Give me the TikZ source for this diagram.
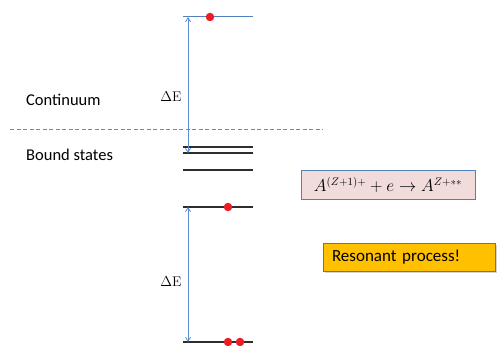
\documentclass[tikz,border=0pt]{standalone}
\usepackage{amsmath}
\usepackage{fontspec}
\newfontfamily\calib{Carlito}
\usetikzlibrary{arrows.meta,shadows}
\begin{document}
\begin{tikzpicture}[x=1pt,y=-1pt,>={Straight Barb[length=4pt,width=5pt]},
  level/.style={line width=1.3pt,draw=levelgray},
  dot/.style={circle,fill=dotred,inner sep=0pt,minimum size=8.5pt},
  gap/.style={<->,line width=.8pt,draw=gapblue},
  label/.style={font=\calib\fontsize{16.5}{19}\selectfont,anchor=west,inner sep=0pt},
  de/.style={font=\fontsize{14}{16}\selectfont,inner sep=0pt}]
\definecolor{levelgray}{RGB}{45,45,45}
\definecolor{gapblue}{RGB}{91,140,205}
\definecolor{dotred}{RGB}{235,28,36}
\definecolor{boxpink}{RGB}{242,220,219}
\definecolor{boxblue}{RGB}{79,129,189}
\definecolor{boxgold}{RGB}{255,192,0}
\useasboundingbox (0,0) rectangle (502,345);
% energy levels
\coordinate (top w) at (183,17);  \coordinate (top e) at (253,17);
\coordinate (b1 w) at (183,147);  \coordinate (b1 e) at (253,147);
\coordinate (b2 w) at (183,153);  \coordinate (b2 e) at (253,153);
\coordinate (b3 w) at (183,170);  \coordinate (b3 e) at (253,170);
\coordinate (b4 w) at (183,207);  \coordinate (b4 e) at (253,207);
\coordinate (gs w) at (183,342);  \coordinate (gs e) at (253,342);
\draw[line width=1pt,draw=boxblue] (top w) -- (top e);
\draw[level] (b1 w) -- (b1 e);
\draw[level] (b2 w) -- (b2 e);
\draw[level] (b3 w) -- (b3 e);
\draw[level] (b4 w) -- (b4 e);
\draw[level] (gs w) -- (gs e);
\node[dot] (e top) at (210,17) {};
\node[dot] (e b4) at (228,207) {};
\node[dot] (e gs1) at (228,342) {};
\node[dot] (e gs2) at (240,342) {};
% continuum limit
\coordinate (lim w) at (10,129); \coordinate (lim e) at (323,129);
\draw[dash pattern=on 4pt off 2.5pt,line width=1pt,draw=gapblue] (lim w) -- (lim e);
\node[label] (cont) at (26,100) {Continuum};
\node[label] (bound) at (26,155) {Bound states};
% energy gaps
\coordinate (up a) at (188,17);  \coordinate (up b) at (188,153);
\coordinate (lo a) at (188,207); \coordinate (lo b) at (188,342);
\draw[gap] (up a) -- (up b);
\draw[gap] (lo a) -- (lo b);
\node[de] (de up) at (171,97) {$\Delta$E};
\node[de] (de lo) at (171,282) {$\Delta$E};
% boxes
\node[draw=boxblue,fill=boxpink,line width=.9pt,minimum width=174pt,minimum height=28.5pt,inner sep=0pt,font=\fontsize{16}{18}\selectfont] (reac) at (388,185) {$A^{(Z+1)+}+e\rightarrow A^{Z+**}$};
\node[draw=black!55,fill=boxgold,line width=.8pt,minimum width=172pt,minimum height=28pt,inner sep=0pt,text width=154pt,font=\calib\fontsize{17}{19}\selectfont,drop shadow={shadow xshift=1.5pt,shadow yshift=-1.5pt,opacity=.35}] (res) at (409,257) {Resonant process!};
\end{tikzpicture}
\end{document}
